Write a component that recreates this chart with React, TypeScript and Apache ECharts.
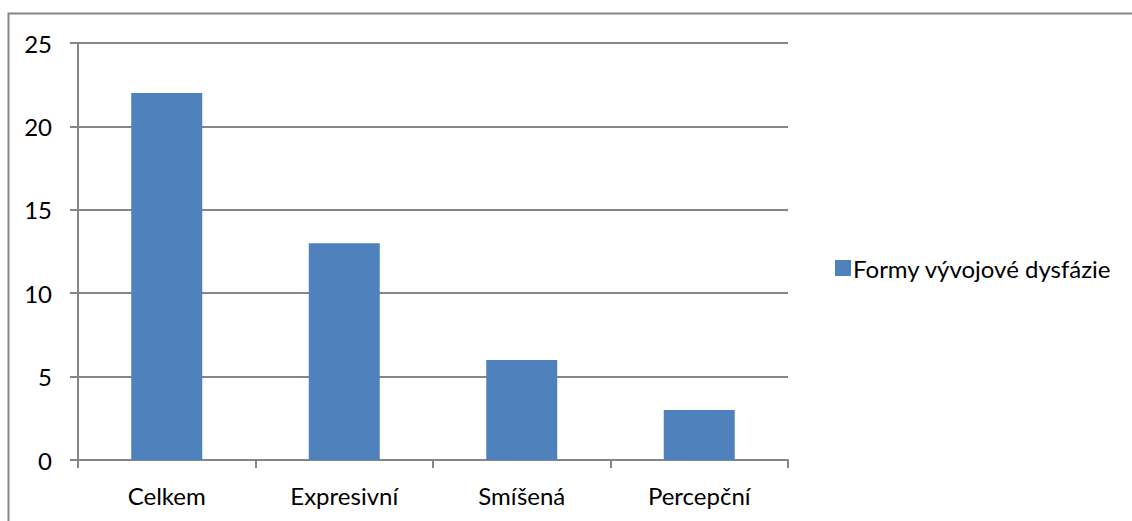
import React, { useEffect, useRef } from "react";
import * as echarts from "echarts";

const categories = ["Celkem", "Expresivní", "Smíšená", "Percepční"];
const values = [22, 13, 6, 3];
const seriesName = "Formy vývojové dysfázie";
const yTicks = [0, 5, 10, 15, 20, 25];

export default function App() {
  const ref = useRef<HTMLDivElement>(null);

  useEffect(() => {
    if (!ref.current) return;
    const chart = echarts.init(ref.current, null, { renderer: "svg" });
    const font = "Lato, 'Open Sans', sans-serif";
    chart.setOption({
      animation: false,
      backgroundColor: "#ffffff",
      textStyle: { fontFamily: font },
      graphic: [
        {
          type: "rect",
          shape: { x: 8.5, y: 13.5, width: 1200, height: 600 },
          style: { fill: "none", stroke: "#868686", lineWidth: 2 },
          silent: true,
        },
      ],
      legend: {
        data: [seriesName],
        orient: "vertical",
        left: 830,
        top: 251,
        itemWidth: 16,
        itemHeight: 16,
        itemGap: 0,
        icon: "rect",
        textStyle: { fontSize: 24, color: "#000", fontFamily: font, padding: [0, 0, 0, -3] },
      },
      grid: { left: 78, right: 344, top: 43, bottom: 61 },
      xAxis: {
        type: "category",
        data: categories,
        axisLine: { lineStyle: { color: "#868686", width: 2 } },
        axisTick: { show: true, length: 8, lineStyle: { color: "#868686", width: 2 } },
        axisLabel: { fontSize: 24, color: "#000", margin: 23, fontFamily: font },
      },
      yAxis: {
        type: "value",
        min: yTicks[0],
        max: yTicks[yTicks.length - 1],
        interval: 5,
        axisLine: { show: true, lineStyle: { color: "#868686", width: 2 } },
        axisTick: { show: true, length: 8, lineStyle: { color: "#868686", width: 2 } },
        axisLabel: { fontSize: 24, color: "#000", margin: 26, fontFamily: font },
        splitLine: { lineStyle: { color: "#868686", width: 2 } },
      },
      series: [
        {
          name: seriesName,
          type: "bar",
          data: values,
          barWidth: "40%",
          itemStyle: { color: "#4F81BD" },
        },
      ],
    });
    return () => chart.dispose();
  }, []);

  return (
    <div
      ref={ref}
      style={{ position: "fixed", left: 0, top: 0, width: 1132, height: 521 }}
    />
  );
}
